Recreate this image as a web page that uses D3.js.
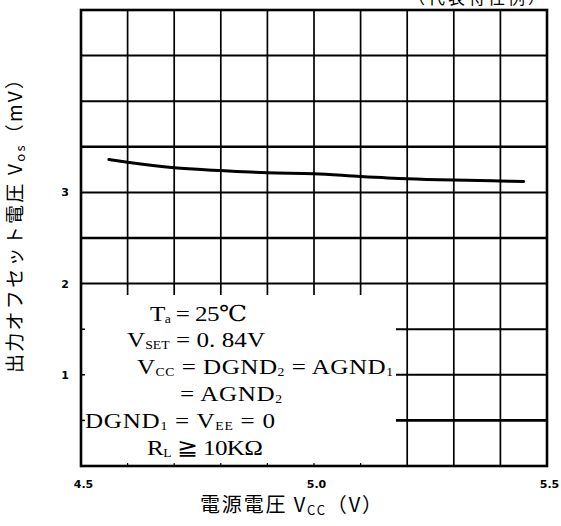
<!DOCTYPE html>
<html>
<head>
<meta charset="utf-8">
<script src="https://cdn.jsdelivr.net/npm/d3@7"></script>
<style>
  html, body { margin: 0; padding: 0; background: #fff; }
  svg { display: block; }
</style>
</head>
<body>
<svg id="chart" width="561" height="526"></svg>
<script>
// Supply voltage sweep (V) and measured output offset voltage (mV)
const vcc = [4.56, 4.6, 4.7, 4.8, 4.9, 5.0, 5.1, 5.2, 5.3, 5.4, 5.45];
const vos = [3.36, 3.33, 3.27, 3.24, 3.215, 3.205, 3.175, 3.15, 3.135, 3.125, 3.12];

const xTicks = [4.5, 5.0, 5.5];
const yTicks = [1, 2, 3];
const xGrid = [4.5, 4.6, 4.7, 4.8, 4.9, 5.0, 5.1, 5.2, 5.3, 5.4, 5.5];
const yGrid = [0, 0.5, 1, 1.5, 2, 2.5, 3, 3.5, 4, 4.5, 5];

// Measurement conditions: each line as [text, subscript?] runs
const noteLines = [
  [["T", 0], ["a", 1], [" = 25℃", 0]],
  [["V", 0], ["SET", 1], [" = 0. 84V", 0]],
  [["V", 0], ["CC", 1], [" = DGND", 0], ["2", 1], [" = AGND", 0], ["1", 1]],
  [["= AGND", 0], ["2", 1]],
  [["DGND", 0], ["1", 1], [" = V", 0], ["EE", 1], [" = 0", 0]],
  [["R", 0], ["L", 1], [" ≧ 10KΩ", 0]]
];
// Where each condition line sits: start x, baseline y, run width
const noteLayout = [
  [150, 321, 97],
  [127, 347, 138],
  [137, 374, 256],
  [180, 401, 102],
  [85, 428, 190],
  [147, 455, 116]
];
const noteStretch = 1.14;

const svg = d3.select("#chart");
const plotL = 81, plotR = 547, plotT = 10, plotB = 466;

const x = d3.scaleLinear().domain([4.5, 5.5]).range([plotL, plotR]);
const y = d3.scaleLinear().domain([0, 5]).range([plotB, plotT]);

// Grid
const grid = svg.append("g").attr("stroke", "#000");
grid.selectAll("line.v").data(xGrid).join("line")
  .attr("class", "v")
  .attr("x1", d => x(d)).attr("x2", d => x(d))
  .attr("y1", plotT).attr("y2", plotB)
  .attr("stroke-width", 1.7);
grid.selectAll("line.h").data(yGrid).join("line")
  .attr("class", "h")
  .attr("x1", plotL).attr("x2", plotR)
  .attr("y1", d => y(d)).attr("y2", d => y(d))
  .attr("stroke-width", d => (d === 3.5 || d === 2.5 || d === 0.5) ? 2.6 : 2);

// White panel holding the condition notes
const boxR = 396, boxT = 295;
svg.append("rect")
  .attr("x", plotL + 1).attr("y", boxT)
  .attr("width", boxR - plotL - 1).attr("height", plotB - boxT - 1)
  .attr("fill", "#fff");

// Small ticks along the panel edges
svg.append("g").attr("stroke", "#000").attr("stroke-width", 1.5)
  .selectAll("line").data([0.5, 1, 1.5]).join("line")
  .attr("x1", plotL).attr("x2", plotL + 4)
  .attr("y1", d => y(d)).attr("y2", d => y(d));
svg.append("g").attr("stroke", "#000").attr("stroke-width", 1.2)
  .selectAll("line").data(xGrid.filter(v => x(v) < boxR && v > 4.5)).join("line")
  .attr("x1", d => x(d)).attr("x2", d => x(d))
  .attr("y1", plotB).attr("y2", plotB - 3);

// Frame
svg.append("rect")
  .attr("x", plotL).attr("y", plotT)
  .attr("width", plotR - plotL).attr("height", plotB - plotT)
  .attr("fill", "none").attr("stroke", "#000").attr("stroke-width", 2.6);

// Curve
const line = d3.line()
  .x((d, i) => x(vcc[i]))
  .y(d => y(d))
  .curve(d3.curveMonotoneX);
svg.append("path")
  .datum(vos)
  .attr("d", line)
  .attr("fill", "none")
  .attr("stroke", "#000")
  .attr("stroke-width", 3)
  .attr("stroke-linecap", "round");

// Axes labels
const xAxis = d3.axisBottom(x).tickValues(xTicks).tickFormat(d3.format(".1f")).tickSize(0).tickPadding(0);
const gx = svg.append("g").attr("transform", `translate(2,${plotB + 14})`).call(xAxis);
gx.select(".domain").remove();
gx.selectAll("text")
  .attr("font-family", "'DejaVu Sans', sans-serif")
  .attr("font-weight", "bold")
  .attr("font-size", 11)
  .attr("fill", "#000");

const yAxis = d3.axisLeft(y).tickValues(yTicks).tickFormat(d3.format("d")).tickSize(0).tickPadding(0);
const gy = svg.append("g").attr("transform", `translate(${plotL - 12},0)`).call(yAxis);
gy.select(".domain").remove();
gy.selectAll("text")
  .attr("font-family", "'DejaVu Sans', sans-serif")
  .attr("font-weight", "bold")
  .attr("font-size", 11)
  .attr("fill", "#000");

// Condition notes (wide serif lettering)
const noteG = svg.append("g")
  .attr("font-family", "'Liberation Serif', 'DejaVu Serif', serif")
  .attr("font-size", 22)
  .attr("fill", "#000");
noteLines.forEach((runs, i) => {
  const [nx, ny, nw] = noteLayout[i];
  const t = noteG.append("text")
    .attr("transform", `translate(${nx},${ny}) scale(${noteStretch},1)`)
    .attr("textLength", nw / noteStretch)
    .attr("lengthAdjust", "spacing");
  runs.forEach(([s, sub]) => {
    t.append("tspan")
      .attr("font-size", sub ? 12 : 22)
      .attr("baseline-shift", sub ? "-2" : null)
      .text(s);
  });
});

// Axis titles
const xt = svg.append("text")
  .attr("x", 200).attr("y", 512)
  .attr("textLength", 182)
  .attr("lengthAdjust", "spacing")
  .attr("font-family", "'Noto Sans CJK JP', sans-serif")
  .attr("font-size", 20)
  .attr("fill", "#000");
xt.append("tspan").text("電源電圧 V");
xt.append("tspan").attr("font-size", 13).attr("baseline-shift", "-3").text("CC");
xt.append("tspan").text("（V）");

const yt = svg.append("text")
  .attr("transform", "translate(22,373) rotate(-90)")
  .attr("textLength", 303)
  .attr("lengthAdjust", "spacing")
  .attr("font-family", "'Noto Sans CJK JP', sans-serif")
  .attr("font-size", 19)
  .attr("fill", "#000");
yt.append("tspan").text("出力オフセット電圧 V");
yt.append("tspan").attr("font-size", 13).attr("baseline-shift", "-3").text("os");
yt.append("tspan").text("（mV）");

// Corner caption, running off the top edge
svg.append("text")
  .attr("x", 548).attr("y", 4)
  .attr("text-anchor", "end")
  .attr("font-family", "'Noto Sans CJK JP', sans-serif")
  .attr("font-size", 17)
  .attr("letter-spacing", 3)
  .attr("fill", "#000")
  .text("（代表特性例）");
</script>
</body>
</html>
